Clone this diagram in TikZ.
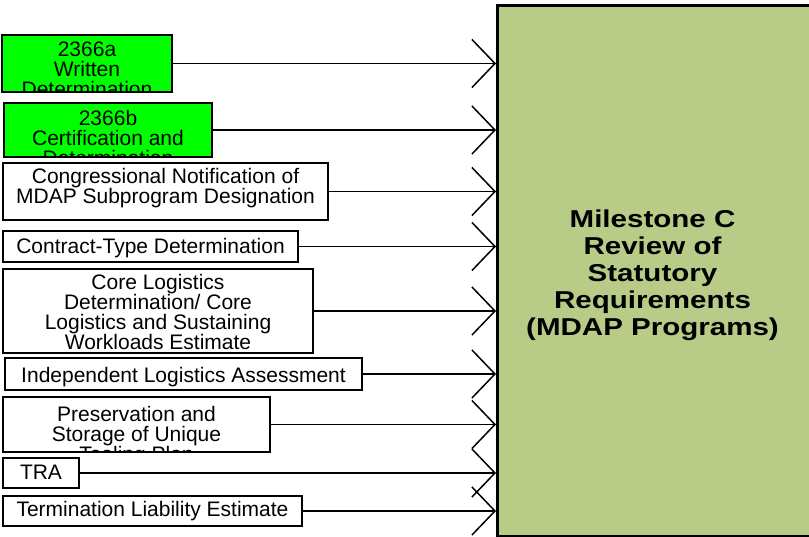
\documentclass[tikz,border=0pt]{standalone}
\usepackage{fontspec}
\setmainfont{Liberation Sans}
\newfontfamily\bigfont[FakeStretch=1.21]{Liberation Sans}
\usetikzlibrary{arrows.meta,calc}
\definecolor{bigfill}{RGB}{184,204,136}
\definecolor{brightgreen}{RGB}{0,255,0}
\tikzset{
  inbox/.style={draw=black, line width=2pt, inner sep=0pt, rectangle},
  boxtext/.style={inner sep=0pt, align=center, text=black,
    font={\fontsize{21pt}{20pt}\selectfont\lineskiplimit=-30pt}},
  conn/.style={draw=black, line width=1.5pt, -{Straight Barb[length=23pt,width=48pt]}},
  bigbox/.style={draw=black, line width=2.6pt, fill=bigfill, inner sep=0pt, rectangle, anchor=north west},
  bigtext/.style={inner sep=0pt, align=center,
    font={\bigfont\bfseries\fontsize{24.4pt}{27pt}\selectfont\lineskiplimit=-30pt}}
}
% name, x1, y1, x2, y2, fill, text centre y, text
\newcommand\mkbox[8]{%
  \node[inbox, fill=#6,
    minimum width={(#4-#2)*1pt}, minimum height={(#5-#3)*1pt},
    path picture={\node[boxtext] at ([yshift={((#3+#5)/2-#7)*1pt}]path picture bounding box.center) {#8};}]
    (#1) at ({(#2+#4)/2},{(#3+#5)/2}) {};}
\begin{document}
\begin{tikzpicture}[x=1pt,y=-1pt]
\useasboundingbox (0,0) rectangle (809,536);
\fill[white] (0,0) rectangle (809,536);
\node[bigbox, minimum width=320pt, minimum height=530.2pt] (big) at (496,4.3) {};
\node[bigtext] (bigtxt) at (652.5,275.6) {Milestone C\\Review of\\Statutory\\Requirements\\(MDAP Programs)};

\mkbox{a}{2}{35}{172}{92}{brightgreen}{69.5}{2366a\\Written\\Determination}
\mkbox{b}{4}{103}{212}{157}{brightgreen}{137.5}{2366b\\Certification and\\Determination}
\mkbox{c}{3}{163}{328}{220}{white}{188.2}{Congressional Notification of\\MDAP Subprogram Designation}
\mkbox{d}{3}{231}{298}{262}{white}{248}{Contract-Type Determination}
\mkbox{e}{3}{269}{313}{353}{white}{311.5}{Core Logistics\\Determination/ Core\\Logistics and Sustaining\\Workloads Estimate}
\mkbox{f}{5}{358}{362}{390}{white}{377.5}{Independent Logistics Assessment}
\mkbox{g}{3}{397}{270}{452}{white}{436.2}{Preservation and\\Storage of Unique\\Tooling Plan}
\mkbox{h}{3}{458}{79}{488}{white}{472.5}{TRA}
\mkbox{i}{3}{496}{302}{526}{white}{511.4}{Termination Liability Estimate}

\foreach \n in {a,b,c,d,e,f,g,h,i}{
  \draw[conn] (\n.east) -- (\n.east -| big.west);
}
\end{tikzpicture}
\end{document}
